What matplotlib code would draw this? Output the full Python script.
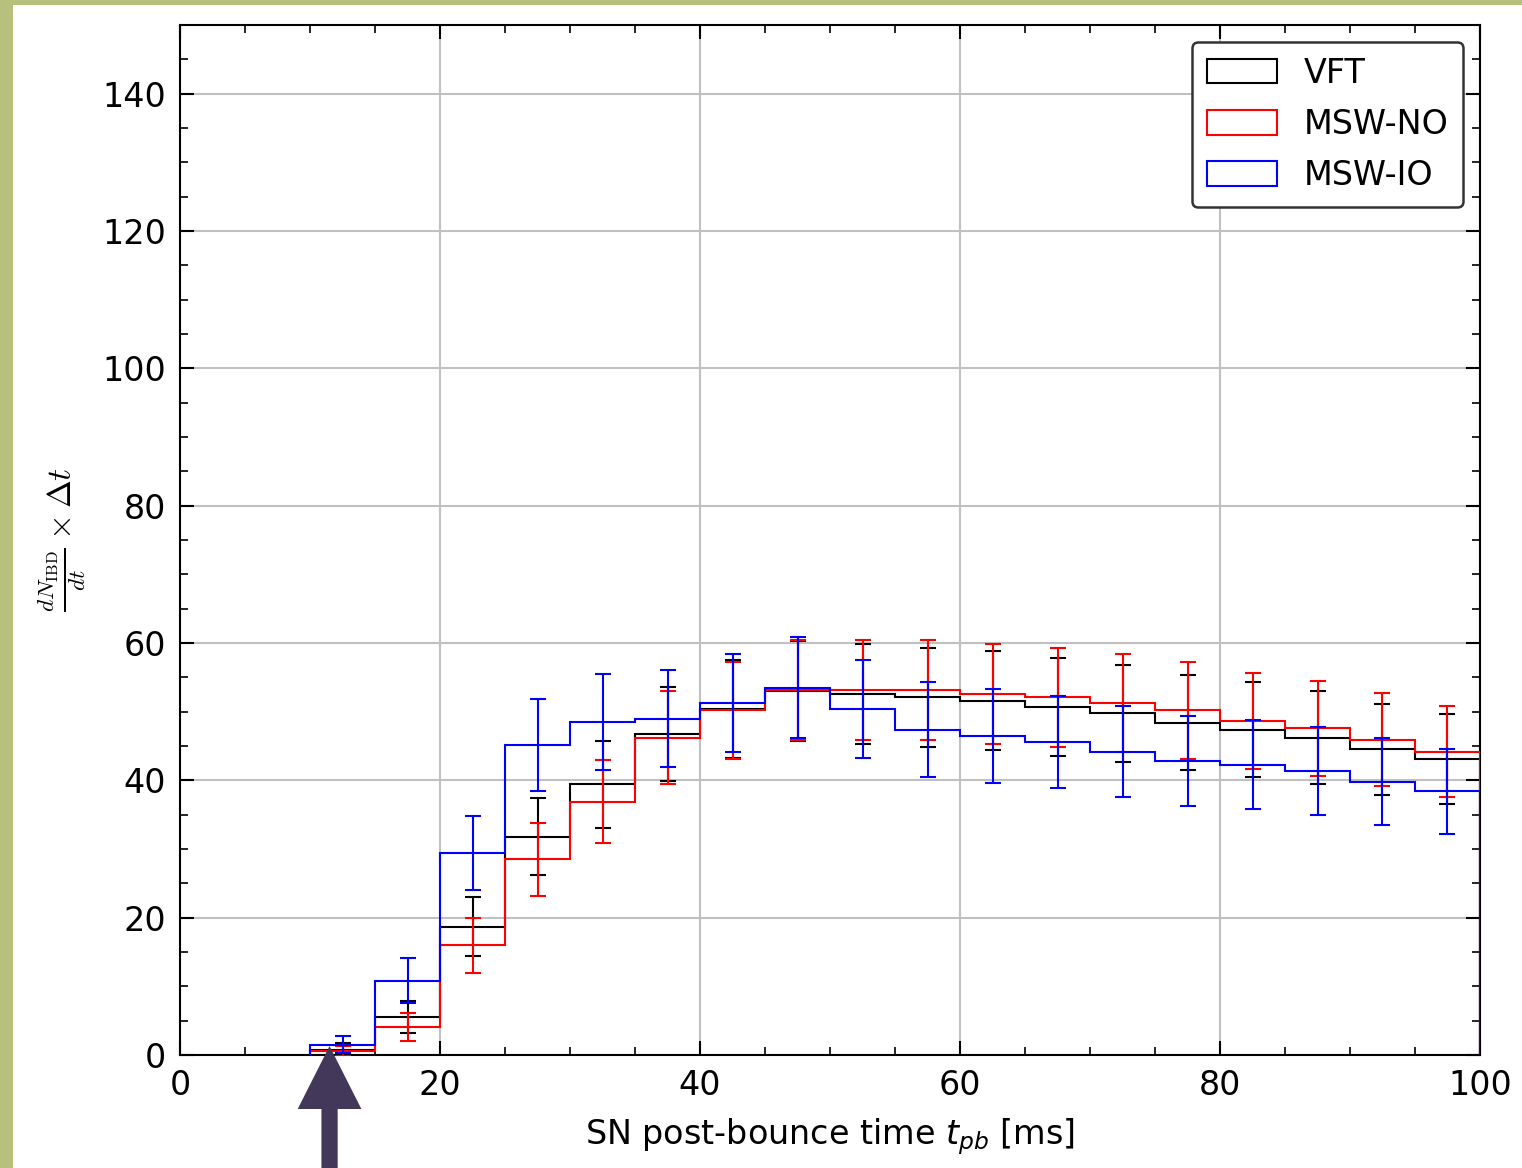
import matplotlib.pyplot as plt
import numpy as np
from matplotlib.patches import Patch, Rectangle, FancyArrow
from matplotlib.ticker import MultipleLocator
from matplotlib.transforms import blended_transform_factory, IdentityTransform

# IBD event counts per 5 ms bin, 10-100 ms after bounce
bin_edges = np.arange(10, 105, 5)
vft = [0.8, 5.5, 18.7, 31.8, 39.4, 46.7, 50.4, 53.0, 52.6, 52.1,
       51.6, 50.7, 49.8, 48.4, 47.4, 46.2, 44.5, 43.1]
msw_no = [0.6, 4.1, 16.0, 28.5, 36.9, 46.2, 50.2, 53.1, 53.2, 53.2,
          52.6, 52.1, 51.3, 50.2, 48.7, 47.6, 45.9, 44.2]
msw_io = [1.5, 10.8, 29.4, 45.1, 48.5, 49.0, 51.3, 53.5, 50.4, 47.4,
          46.5, 45.6, 44.2, 42.8, 42.3, 41.4, 39.8, 38.4]
series_names = ['VFT', 'MSW-NO', 'MSW-IO']
series_colors = ['black', 'red', 'blue']
arrow_time = 11.5  # ms, marker for onset

FS = 24
plt.rcParams['font.family'] = 'DejaVu Sans'
plt.rcParams['font.size'] = FS

fig = plt.figure(figsize=(15.22, 11.68), dpi=100)
ax = fig.add_axes([0.1183, 0.0967, 0.8541, 0.8819])

# side/top frame strips
fig.patches.append(Rectangle((0, 0), 13 / 1522, 1, transform=fig.transFigure,
                             facecolor='#b7c17d', edgecolor='none', zorder=0))
fig.patches.append(Rectangle((0, 1 - 5 / 1168), 1, 5 / 1168, transform=fig.transFigure,
                             facecolor='#b7c17d', edgecolor='none', zorder=0))

centers = 0.5 * (bin_edges[:-1] + bin_edges[1:])
handles = []
for counts, name, col in zip([vft, msw_no, msw_io], series_names, series_colors):
    counts = np.asarray(counts)
    ax.stairs(counts, bin_edges, color=col, lw=1.5, baseline=0, zorder=3)
    ax.errorbar(centers, counts, yerr=np.sqrt(counts), fmt='none', ecolor=col,
                elinewidth=1.5, capsize=5.5, capthick=1.5, zorder=3)
    handles.append(Patch(facecolor='none', edgecolor=col, lw=1.5, label=name))

ax.set_xlim(0, 100)
ax.set_ylim(0, 150)
ax.xaxis.set_major_locator(MultipleLocator(20))
ax.xaxis.set_minor_locator(MultipleLocator(5))
ax.yaxis.set_major_locator(MultipleLocator(20))
ax.yaxis.set_minor_locator(MultipleLocator(5))
ax.tick_params(which='both', direction='in', top=True, right=True)
ax.tick_params(which='major', length=10, width=1.5, pad=10, labelsize=FS)
ax.tick_params(which='minor', length=6, width=1.2)
for sp in ax.spines.values():
    sp.set_linewidth(1.5)
ax.grid(True, which='major', color='#c0c0c0', lw=1.5, zorder=0)
ax.set_axisbelow(True)

ax.set_xlabel(r'SN post-bounce time $t_{pb}$ [ms]', fontsize=FS, labelpad=10)
ax.set_ylabel(r'$\frac{dN_{\rm IBD}}{dt} \times \Delta t$', fontsize=FS,
              math_fontfamily='cm', labelpad=10)

leg = ax.legend(handles=handles, loc='upper right', fontsize=FS, fancybox=True,
                framealpha=1, edgecolor='#333333', handlelength=2.1,
                handleheight=0.75, handletextpad=0.8, labelspacing=0.55,
                borderpad=0.45, borderaxespad=0.5)
leg.get_frame().set_linewidth(1.8)

# upward arrow marking the onset time
trans = blended_transform_factory(ax.transData, IdentityTransform())
arrow = FancyArrow(arrow_time, -5, 0, 1168 - 1046 + 5, width=1.25, head_width=4.9,
                   head_length=63, length_includes_head=True, transform=trans,
                   facecolor='#433859', edgecolor='none', clip_on=False, zorder=10)
fig.add_artist(arrow)

fig.savefig('out.png', dpi=100)
